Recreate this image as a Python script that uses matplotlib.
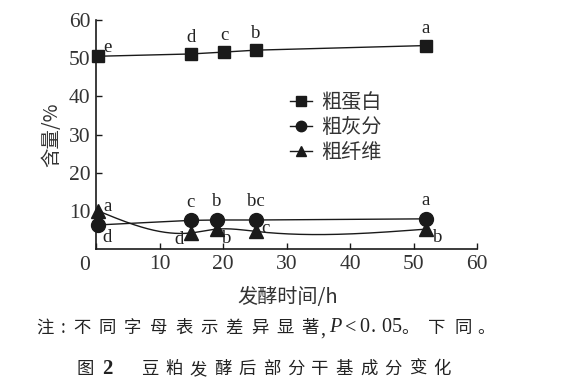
import numpy as np
import matplotlib
matplotlib.use("Agg")
import matplotlib.pyplot as plt
from matplotlib.lines import Line2D

CJK = ['Noto Sans CJK SC', 'DejaVu Sans']
SERIF = ['Liberation Serif', 'DejaVu Serif']

# ---- data ----
time_protein = [0.3, 14.9, 20.2, 25.2, 51.9]
protein = [50.5, 51.1, 51.6, 52.1, 53.3]
protein_sig = ['e', 'd', 'c', 'b', 'a']

time_other = [0.3, 14.9, 19.0, 25.2, 51.9]
ash = [6.3, 7.5, 7.6, 7.6, 7.9]
ash_sig = ['d', 'c', 'b', 'bc', 'a']
fiber = [10.0, 4.2, 5.2, 4.6, 5.2]
fiber_sig = ['a', 'd', 'b', 'c', 'b']

series_names = ['粗蛋白', '粗灰分', '粗纤维']
x_ticks = [0, 10, 20, 30, 40, 50, 60]
y_ticks = [10, 20, 30, 40, 50, 60]


def natural_spline(x, y, n=400):
    x = np.asarray(x, float); y = np.asarray(y, float)
    k = len(x); h = np.diff(x)
    A = np.zeros((k, k)); b = np.zeros(k)
    A[0, 0] = A[-1, -1] = 1
    for i in range(1, k - 1):
        A[i, i - 1] = h[i - 1]; A[i, i] = 2 * (h[i - 1] + h[i]); A[i, i + 1] = h[i]
        b[i] = 3 * ((y[i + 1] - y[i]) / h[i] - (y[i] - y[i - 1]) / h[i - 1])
    c = np.linalg.solve(A, b)
    xs = np.linspace(x[0], x[-1], n); ys = np.empty_like(xs)
    for j, xv in enumerate(xs):
        i = min(np.searchsorted(x, xv, side='right') - 1, k - 2)
        d = xv - x[i]
        bb = (y[i + 1] - y[i]) / h[i] - h[i] * (2 * c[i] + c[i + 1]) / 3
        dd = (c[i + 1] - c[i]) / (3 * h[i])
        ys[j] = y[i] + bb * d + c[i] * d ** 2 + dd * d ** 3
    return xs, ys


W, H = 562, 391
fig = plt.figure(figsize=(W / 100, H / 100), dpi=100)
ax = fig.add_axes([96 / W, 1 - 249 / H, (477 - 96) / W, (249 - 20) / H])

col = '#1a1a1a'
txtcol = '#333333'
ax.plot(time_protein, protein, '-', color=col, lw=1.0, marker='s', ms=8.5, clip_on=False, zorder=3)
ax.plot(time_other, ash, '-', color=col, lw=1.0, marker='o', ms=10, clip_on=False, zorder=3)
sx, sy = natural_spline(time_other, fiber)
ax.plot(sx, sy, '-', color=col, lw=1.0, clip_on=False, zorder=2)
ax.plot(time_other, fiber, ls='none', color=col, marker='^', ms=9.5, clip_on=False, zorder=4)

ax.set_xlim(0, 60)
ax.set_ylim(0, 60)
ax.set_xticks(x_ticks)
ax.set_yticks(y_ticks)
ax.set_xticklabels([''] + [str(v) for v in x_ticks[1:]])
for s in ['top', 'right']:
    ax.spines[s].set_visible(False)
for s in ['left', 'bottom']:
    ax.spines[s].set_linewidth(1.2)
    ax.spines[s].set_color(col)
ax.tick_params(direction='in', length=4, width=1.0, colors=col, labelsize=15.5, pad=4)
for lab in ax.get_xticklabels() + ax.get_yticklabels():
    lab.set_family(SERIF)
    lab.set_color(txtcol)
ax.text(-0.03, -0.03, '0', transform=ax.transAxes, ha='center', va='top',
        family=SERIF, fontsize=15.5, color=txtcol)

ax.set_xlabel('发酵时间/h', family=CJK, fontsize=14.5, color=txtcol)
ax.set_ylabel('含量/%', family=CJK, fontsize=14, color=txtcol)
ax.xaxis.set_label_coords((288 - 96) / 381, (249 - 287) / 229)
ax.yaxis.set_label_coords((62 - 96) / 381, (249 - 135) / 229)

# significance letters
lt = dict(family=SERIF, fontsize=13.5, color='#222222')
def lab(x, y, s, dx, dy, ha='center', va='center'):
    ax.annotate(s, (x, y), xytext=(dx, dy), textcoords='offset points', ha=ha, va=va, **lt)

lab(time_protein[0], protein[0], protein_sig[0], 4, 6, ha='left')
for i in range(1, 5):
    lab(time_protein[i], protein[i], protein_sig[i], 0, 12)
lab(time_other[0], ash[0], ash_sig[0], 3, -9, ha='left')
for i in range(1, 5):
    lab(time_other[i], ash[i], ash_sig[i], 0, 13)
lab(time_other[0], fiber[0], fiber_sig[0], 4, 3, ha='left')
lab(time_other[1], fiber[1], fiber_sig[1], -5, -5, ha='right')
lab(time_other[2], fiber[2], fiber_sig[2], 4, -7, ha='left')
lab(time_other[3], fiber[3], fiber_sig[3], 4, 2, ha='left')
lab(time_other[4], fiber[4], fiber_sig[4], 5, -6, ha='left')

handles = [Line2D([], [], color=col, lw=1.0, marker=m, ms=ms) for m, ms in
           [('s', 6.5), ('o', 7.5), ('^', 7.5)]]
leg = fig.legend(handles, series_names, loc='upper left', bbox_to_anchor=(290 / W, 1 - 92 / H),
                 frameon=False, prop={'family': CJK, 'size': 14.5}, handlelength=1.1,
                 handletextpad=0.45, labelspacing=0.2, borderpad=0, borderaxespad=0)
for t in leg.get_texts():
    t.set_color(txtcol)


def put(s, xc, y, size=12.5, family=CJK, **kw):
    fig.text(xc / W, 1 - y / H, s, family=family, fontsize=size, ha='center', va='center',
             color='#222222', **kw)


# caption line 1 (character-spaced like the typeset original)
y1 = 328
put('注', 45, y1)
put(':', 63, y1)
for i, ch in enumerate('不同字母表示差异显著'):
    put(ch, 82 + i * 25.4, y1)
num = dict(size=14.5, family=SERIF)
put(',', 323, y1 + 2, **num)
put('P', 335, y1, style='italic', **num)
put('<', 351, y1, **num)
put('0', 364, y1, **num)
put('.', 373, y1, **num)
put('0', 386, y1, **num)
put('5', 397, y1, **num)
put('。', 410, y1)
put('下', 437, y1)
put('同', 463, y1)
put('。', 486, y1)

# caption line 2
y2 = 369
put('图', 85, y2, size=12.5)
put('2', 107, y2, size=15, family=SERIF, weight='bold')
for i, ch in enumerate('豆粕发酵后部分干基成分变化'):
    put(ch, 150 + i * 24.3, y2, size=12.5)

fig.savefig('out.png', dpi=100)
